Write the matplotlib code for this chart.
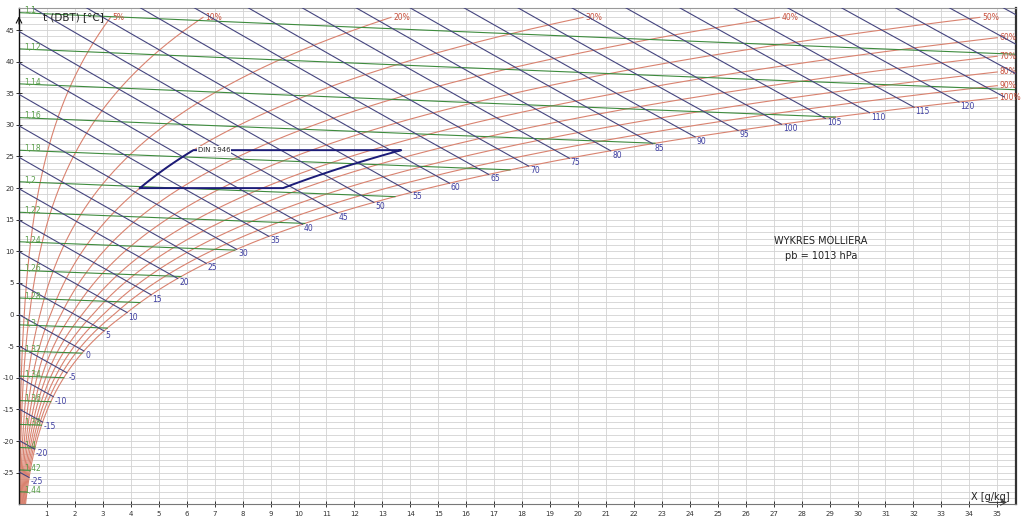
import numpy as np
import matplotlib.pyplot as plt

plt.rcParams['axes.unicode_minus'] = False

# chart settings
P_BAR = 101325.0
RH_LEVELS = [5, 10, 20, 30, 40, 50, 60, 70, 80, 90, 100]
ENTHALPY_LEVELS = list(range(-25, 145, 5))
DENSITY_LEVELS = [1.10, 1.12, 1.14, 1.16, 1.18, 1.20, 1.22, 1.24, 1.26,
                  1.28, 1.30, 1.32, 1.34, 1.36, 1.38, 1.40, 1.42, 1.44]
DENSITY_LABELS = ['1,1', '1,12', '1,14', '1,16', '1,18', '1,2', '1,22', '1,24',
                  '1,26', '1,28', '1,3', '1,32', '1,34', '1,36', '1,38', '1,4',
                  '1,42', '1,44']
DIN_T = (20, 26)
DIN_RH = (30, 65)
X_TICKS = list(range(1, 36))
T_TICKS = list(range(-25, 50, 5))

X_MAX = 35.67
T_MIN, T_MAX = -30.0, 48.48
T_CURVE_TOP = 47.0
X_CURVE_END = 35.0

C_RED = '#d9826f'
C_RED_TXT = '#c8503c'
C_BLUE = '#45457f'
C_BLUE_TXT = '#3c3ca0'
C_GREEN = '#3d8b3d'
C_GREEN_TXT = '#5a9e4a'
C_GRID = '#d2d2d2'


def p_sat(t):
    t = np.asarray(t, dtype=float)
    water = 611.2 * np.exp(17.62 * t / (243.12 + t))
    ice = 611.2 * np.exp(22.46 * t / (272.62 + t))
    return np.where(t >= 0, water, ice)


def x_of(t, rh):
    pv = rh / 100.0 * p_sat(t)
    return 622.0 * pv / (P_BAR - pv)


def t_enthalpy(h, x):
    return (h - 2.501 * x) / (1.005 + 0.00186 * x)


def t_density(rho, x):
    xk = np.asarray(x) / 1000.0
    return P_BAR * (1 - 0.378 * xk / (0.622 + xk)) / (287.05 * rho) - 273.15


def bisect(f, lo, hi, n=60):
    flo = f(lo)
    for _ in range(n):
        mid = 0.5 * (lo + hi)
        fm = f(mid)
        if np.sign(fm) == np.sign(flo):
            lo, flo = mid, fm
        else:
            hi = mid
    return 0.5 * (lo + hi)


def meet_saturation(line, level):
    # temperature where an isoline meets the 100% curve
    g = lambda t: line(level, float(x_of(t, 100))) - t
    ts = bisect(g, -45, 70)
    return float(x_of(ts, 100)), ts


fig = plt.figure(figsize=(10.24, 5.2), dpi=100)
ax = fig.add_axes([19 / 1024, (520 - 504.3) / 520, 997 / 1024, (504.3 - 8) / 520])
ax.set_xlim(0, X_MAX)
ax.set_ylim(T_MIN, T_MAX)

# grid every 1 g/kg and every 1 degC
for xv in range(1, 36):
    ax.axvline(xv, color=C_GRID, lw=0.6, zorder=0)
for tv in range(-29, 49):
    ax.axhline(tv, color=C_GRID, lw=0.6, zorder=0)

# relative humidity curves
for rh in RH_LEVELS:
    t_end = T_CURVE_TOP
    if x_of(t_end, rh) > X_CURVE_END:
        t_end = bisect(lambda t: float(x_of(t, rh)) - X_CURVE_END, -30, T_CURVE_TOP)
    tt = np.linspace(T_MIN, t_end, 400)
    xx = x_of(tt, rh)
    ax.plot(xx, tt, color=C_RED, lw=0.8, zorder=2)
    ax.annotate(f'{rh}%', (xx[-1], tt[-1]), xytext=(1.5, 0), textcoords='offset points',
                ha='left', va='center', fontsize=5.5, color=C_RED_TXT,
                annotation_clip=False)

# enthalpy lines
for h in ENTHALPY_LEVELS:
    xs, ts = meet_saturation(t_enthalpy, h)
    x_end = min(xs, X_MAX)
    xx = np.linspace(0, x_end, 200)
    ax.plot(xx, t_enthalpy(h, xx), color=C_BLUE, lw=0.8, zorder=3)
    if xs <= 34.5:
        ax.annotate(str(h), (xs, ts), xytext=(1, 0), textcoords='offset points',
                    ha='left', va='top', fontsize=5.5, color=C_BLUE_TXT)

# density lines
for rho, lab in zip(DENSITY_LEVELS, DENSITY_LABELS):
    xs, ts = meet_saturation(t_density, rho)
    x_end = min(xs, X_MAX)
    xx = np.linspace(0, x_end, 200)
    ax.plot(xx, t_density(rho, xx), color=C_GREEN, lw=0.8, zorder=2)
    ax.text(0.2, float(t_density(rho, 0.2)) + 0.3, lab, ha='left', va='center',
            fontsize=5.5, color=C_GREEN_TXT, zorder=4)

# DIN 1946 comfort zone
t_lo, t_hi = DIN_T
rh_lo, rh_hi = DIN_RH
t_side = np.linspace(t_lo, t_hi, 30)
zx = np.concatenate([x_of(t_side, rh_lo), x_of(t_side[::-1], rh_hi), [x_of(t_lo, rh_lo)]])
zt = np.concatenate([t_side, t_side[::-1], [t_lo]])
ax.plot(zx, zt, color='#1c1c78', lw=1.4, zorder=5)
ax.text(float(x_of(t_hi, rh_lo)) + 0.15, t_hi, 'DIN 1946', fontsize=5, color='#222222',
        ha='left', va='center', zorder=6,
        bbox=dict(facecolor='white', edgecolor='none', pad=0.6))

ax.text(28.7, 11.7, 'WYKRES MOLLIERA', ha='center', va='center', fontsize=7, color='#222222')
ax.text(28.7, 9.3, 'pb = 1013 hPa', ha='center', va='center', fontsize=7, color='#222222')

# axes and labels
ax.set_xticks(X_TICKS)
ax.set_yticks(T_TICKS)
ax.tick_params(axis='both', direction='inout', length=5, width=0.7, labelsize=5,
               colors='#333333')
ax.tick_params(axis='x', pad=2)
ax.tick_params(axis='y', pad=1)
ax.spines['left'].set_color('#111111')
ax.spines['left'].set_linewidth(1.0)
ax.spines['bottom'].set_color('#777777')
ax.spines['bottom'].set_linewidth(0.8)
ax.spines['top'].set_color('#999999')
ax.spines['top'].set_linewidth(0.8)
ax.spines['right'].set_color('#333333')
ax.spines['right'].set_linewidth(1.6)

ax.annotate('', xy=(0, 47.6), xytext=(0, 45.5),
            arrowprops=dict(arrowstyle='->', color='#111111', lw=0.8),
            annotation_clip=False)
ax.annotate('', xy=(35.45, T_MIN + 0.3), xytext=(34.6, T_MIN + 0.3),
            arrowprops=dict(arrowstyle='->', color='#333333', lw=0.7),
            annotation_clip=False)
ax.text(0.85, 47.0, 't (DBT) [°C]', ha='left', va='center', fontsize=7.5, color='#222222')
ax.text(34.05, -29.6, 'X [g/kg]', ha='left', va='bottom', fontsize=7, color='#222222')

fig.savefig('out.png', dpi=100, facecolor='white')
